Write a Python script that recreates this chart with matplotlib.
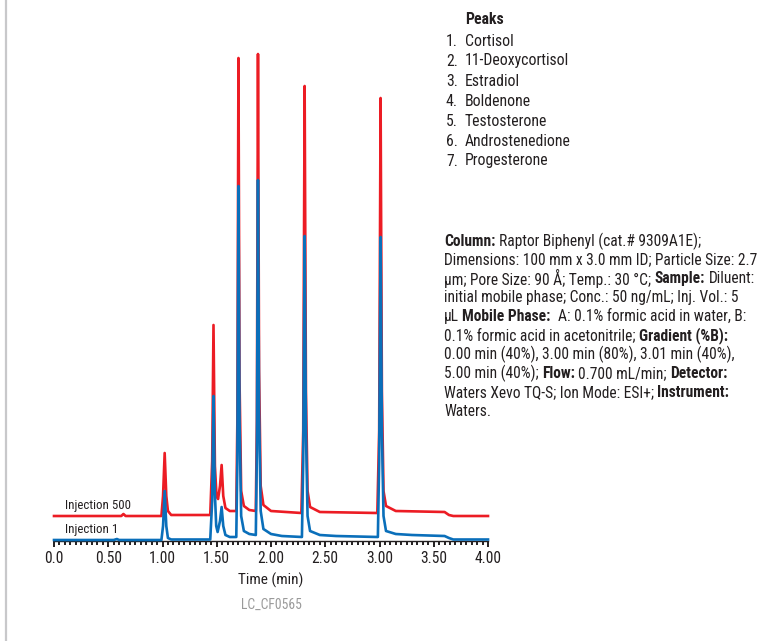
import matplotlib
matplotlib.use("Agg")
import matplotlib.pyplot as plt
from matplotlib import font_manager
from matplotlib.ticker import MultipleLocator, FixedLocator
from matplotlib.lines import Line2D

# ---------------- data ----------------
peak_names = ["Cortisol", "11-Deoxycortisol", "Estradiol", "Boldenone",
              "Testosterone", "Androstenedione", "Progesterone"]

inj1_time = [0.00, 0.55, 0.58, 0.60, 0.99, 1.005, 1.02, 1.035, 1.05, 1.08,
             1.44, 1.458, 1.47, 1.482, 1.495, 1.508, 1.53, 1.545, 1.56, 1.58, 1.62,
             1.68, 1.69, 1.70, 1.71, 1.725, 1.75, 1.80, 1.86,
             1.87, 1.88, 1.89, 1.905, 1.93, 2.00, 2.10, 2.285,
             2.297, 2.31, 2.322, 2.337, 2.36, 2.45, 2.60, 2.985,
             2.997, 3.01, 3.022, 3.037, 3.06, 3.15, 3.30, 3.60, 3.64, 3.68, 4.00]
inj1_signal = [1.0, 1.0, 2.0, 1.0, 1.0, 15, 50, 15, 3, 1.5,
               1.5, 40, 145, 50, 15, 9, 20, 34, 15, 6, 4,
               4, 80, 355, 120, 25, 10, 7, 6,
               90, 361, 130, 30, 12, 7, 5, 4,
               80, 305, 110, 25, 10, 6, 5, 4,
               80, 304, 110, 25, 10, 7, 6, 5, 3, 1.5, 1.5]

inj500_time = [0.00, 0.62, 0.64, 0.66, 0.99, 1.005, 1.02, 1.035, 1.05, 1.08,
               1.44, 1.458, 1.47, 1.483, 1.498, 1.512, 1.53, 1.545, 1.56, 1.58, 1.62,
               1.68, 1.69, 1.70, 1.71, 1.725, 1.75, 1.80, 1.86,
               1.87, 1.88, 1.89, 1.905, 1.93, 2.00, 2.28,
               2.297, 2.31, 2.322, 2.337, 2.36, 2.45, 2.98,
               2.997, 3.01, 3.022, 3.037, 3.06, 3.15, 3.60, 3.64, 3.68, 4.00]
inj500_signal = [25, 25, 27, 25, 25, 45, 88, 45, 30, 26,
                 26, 80, 216, 75, 45, 42, 55, 76, 45, 33, 30,
                 30, 120, 483, 160, 50, 35, 31, 30,
                 120, 487, 170, 55, 36, 30, 28,
                 110, 455, 150, 50, 34, 29, 28,
                 110, 443, 150, 50, 35, 30, 29, 26, 25, 25]

series_labels = ["Injection 500", "Injection 1"]
xtick_values = [0.0, 0.5, 1.0, 1.5, 2.0, 2.5, 3.0, 3.5, 4.0]
xtick_labels = ["0.0", "0.50", "1.00", "1.50", "2.00", "2.50", "3.00", "3.50", "4.00"]

conditions = [
    [("Column:", True), (" Raptor Biphenyl (cat.# 9309A1E);", False)],
    [("Dimensions: 100 mm x 3.0 mm ID; Particle Size: 2.7", False)],
    [("µm; Pore Size: 90 Å; Temp.: 30 °C; ", False), ("Sample:", True), (" Diluent:", False)],
    [("initial mobile phase; Conc.: 50 ng/mL; Inj. Vol.: 5", False)],
    [("µL ", False), ("Mobile Phase:", True), ("  A: 0.1% formic acid in water, B:", False)],
    [("0.1% formic acid in acetonitrile; ", False), ("Gradient (%B):", True)],
    [("0.00 min (40%), 3.00 min (80%), 3.01 min (40%),", False)],
    [("5.00 min (40%); ", False), ("Flow:", True), (" 0.700 mL/min; ", False), ("Detector:", True)],
    [("Waters Xevo TQ-S; Ion Mode: ESI+; ", False), ("Instrument:", True)],
    [("Waters.", False)],
]

# ---------------- style ----------------
avail = {f.name for f in font_manager.fontManager.ttflist}
FONT = None
for cand in ["Roboto Condensed", "Liberation Sans Narrow", "Open Sans Condensed",
             "Roboto", "Liberation Sans", "DejaVu Sans"]:
    if cand in avail:
        FONT = cand
        break
plt.rcParams["font.family"] = [FONT, "DejaVu Sans"]
TXT = "#231f20"
RED = "#ec1c24"
BLUE = "#0a6fba"

W, H = 760, 641
fig = plt.figure(figsize=(W / 100, H / 100), dpi=100)
fig.patch.set_facecolor("white")

def fx(px):
    return px / W

def fy(py):
    return 1 - py / H

ax = fig.add_axes([fx(54), fy(541), fx(488) - fx(54), fy(40) - fy(541)])
ax.set_xlim(0, 4.0)
ax.set_ylim(0, 501)
for s in ["left", "top", "right"]:
    ax.spines[s].set_visible(False)
ax.spines["bottom"].set_color("#231f20")
ax.spines["bottom"].set_linewidth(1.0)
ax.set_yticks([])
ax.xaxis.set_major_locator(FixedLocator(xtick_values))
ax.xaxis.set_minor_locator(MultipleLocator(0.05))
ax.set_xticklabels(xtick_labels)
ax.tick_params(axis="x", which="major", direction="out", length=4, width=1.4,
               color=TXT, labelsize=11.2, labelcolor=TXT, pad=3)
ax.tick_params(axis="x", which="minor", direction="out", length=3, width=1.4, color=TXT)
ax.set_xlabel("Time (min)", fontsize=11, color=TXT, labelpad=5)

ax.plot(inj500_time, inj500_signal, color=RED, lw=1.9, solid_joinstyle="round", clip_on=False, zorder=3)
ax.plot(inj1_time, inj1_signal, color=BLUE, lw=1.9, solid_joinstyle="round", clip_on=False, zorder=4)

ax.text(0.10, 36, series_labels[0], fontsize=9.3, color=TXT, va="center", ha="left")
ax.text(0.10, 12, series_labels[1], fontsize=9.3, color=TXT, va="center", ha="left")

fig.text(fx(271), fy(605), "LC_CF0565", fontsize=9.8, color="#9a9a9a", ha="center", va="center")

# left border
fig.add_artist(Line2D([fx(6), fx(6)], [0, 1], color="#c8c8ca", lw=1.6))

# peaks list
LFS = 11.3
fig.text(fx(465), fy(20), "Peaks", fontsize=LFS, fontweight="bold", color=TXT, va="center", ha="left")
for i, name in enumerate(peak_names):
    yy = fy(41 + 20 * i)
    fig.text(fx(458), yy, f"{i + 1}.", fontsize=LFS, color=TXT, va="center", ha="right")
    fig.text(fx(465), yy, name, fontsize=LFS, color=TXT, va="center", ha="left")

# conditions paragraph with bold runs
fig.canvas.draw()
renderer = fig.canvas.get_renderer()
PFS = 11.2

def text_width(s, bold):
    t = fig.text(0, 0, s, fontsize=PFS, fontweight="bold" if bold else "normal")
    w = t.get_window_extent(renderer).width
    t.remove()
    return w

space_w = {b: text_width("a a", b) - text_width("aa", b) for b in (False, True)}

for li, line in enumerate(conditions):
    xpx = 444
    ypx = 241 + 18.9 * li
    for seg, bold in line:
        lead = len(seg) - len(seg.lstrip(" "))
        trail = len(seg) - len(seg.rstrip(" "))
        core = seg.strip(" ")
        xpx += lead * space_w[bold]
        if core:
            t = fig.text(fx(xpx), fy(ypx), core, fontsize=PFS,
                         fontweight="bold" if bold else "normal",
                         color=TXT, va="center", ha="left")
            xpx += t.get_window_extent(renderer).width
        xpx += trail * space_w[bold]

fig.savefig("out.png", dpi=100, facecolor="white")
